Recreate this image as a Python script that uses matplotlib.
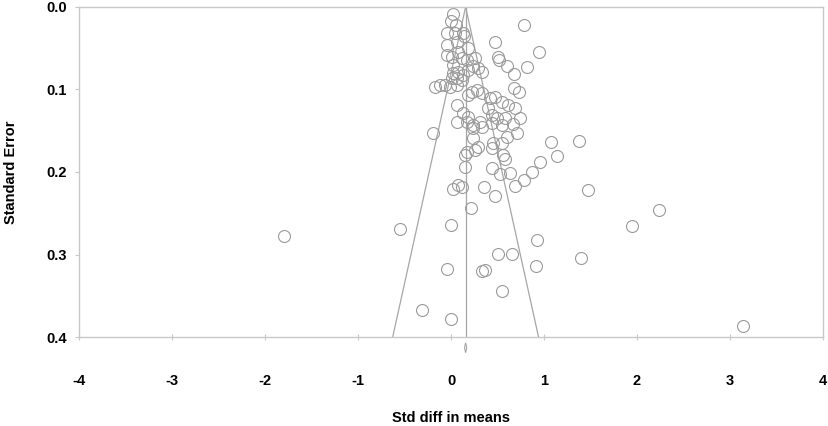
import matplotlib
matplotlib.use("Agg")
import matplotlib.pyplot as plt
import numpy as np

plt.rcParams['font.family'] = ['Liberation Sans', 'DejaVu Sans']
plt.rcParams['axes.unicode_minus'] = False

# study effects (std diff in means) and their standard errors
std_diff = [
    0.025, 0.003, 0.057, -0.040, 0.046, 0.132, 0.143, -0.040, 0.068, 0.186,
    -0.040, 0.014, 0.078, 0.121, 0.175, 0.261, 0.025, 0.025, 0.078, 0.132,
    0.186, 0.240, 0.294, 0.337, 0.014, 0.068, 0.121, -0.169, -0.115, -0.061,
    -0.008, 0.068, 0.229, 0.283, 0.337, 0.186, 0.422, 0.476, 0.068, 0.132,
    0.186, 0.240, 0.315, 0.444, 0.498, 0.584, 0.745, 0.401, 0.788, 0.476,
    0.949, 0.509, 0.519, 0.605, 0.820, 0.681, 0.681, 0.734, 0.552, 0.616,
    0.691, -0.190, 0.068, 0.175, 0.240, 0.337, 0.444, 0.552, 0.670, 0.713,
    0.240, 0.294, 0.261, 0.175, 0.154, 0.455, 0.552, 0.605, 0.444, 0.562,
    0.584, 0.154, 0.444, 0.530, 0.638, 0.025, 0.078, 0.121, 0.358, 0.476,
    0.691, 0.788, 0.874, 0.960, 1.078, 1.143, 1.379, 1.476, 0.218, 0.003,
    -0.545, 0.928, 0.509, 0.659, 0.917, -0.040, 0.337, 0.369, 0.552, -0.309,
    0.003, 2.240, 1.950, 1.401, 3.142, -1.792,
]
std_err = [
    0.0085, 0.017, 0.022, 0.0315, 0.0315, 0.0315, 0.035, 0.046, 0.042, 0.050,
    0.058, 0.061, 0.055, 0.062, 0.064, 0.062, 0.070, 0.080, 0.079, 0.082,
    0.076, 0.072, 0.074, 0.079, 0.086, 0.086, 0.088, 0.097, 0.095, 0.095,
    0.097, 0.095, 0.103, 0.101, 0.104, 0.107, 0.110, 0.109, 0.119, 0.128,
    0.133, 0.143, 0.139, 0.131, 0.135, 0.135, 0.135, 0.122, 0.022, 0.042,
    0.055, 0.061, 0.064, 0.072, 0.073, 0.081, 0.098, 0.103, 0.115, 0.119,
    0.122, 0.153, 0.139, 0.139, 0.147, 0.145, 0.141, 0.143, 0.142, 0.153,
    0.159, 0.170, 0.173, 0.176, 0.179, 0.165, 0.165, 0.158, 0.171, 0.179,
    0.184, 0.194, 0.195, 0.202, 0.201, 0.221, 0.216, 0.218, 0.218, 0.229,
    0.217, 0.210, 0.200, 0.188, 0.164, 0.181, 0.162, 0.222, 0.244, 0.264,
    0.269, 0.282, 0.299, 0.299, 0.314, 0.318, 0.320, 0.319, 0.344, 0.367,
    0.378, 0.246, 0.265, 0.304, 0.387, 0.278,
]
pooled = 0.157
se_max = 0.4

grey = '#a6a6a6'

fig = plt.figure(figsize=(8.29, 4.26), dpi=100)
ax = fig.add_axes([0.0953, 0.2089, 0.8975, 0.7747])

# funnel (95% limits) and the pooled-effect line
ax.plot([pooled - 1.96 * se_max, pooled, pooled + 1.96 * se_max], [se_max, 0, se_max],
        color=grey, lw=0.9)
ax.plot([pooled, pooled], [0, se_max], color=grey, lw=0.9)

ax.plot(std_diff, std_err, 'o', ms=8.6, mfc='none', mec='#9a9a9a', mew=0.8, clip_on=False)

# small diamond for the combined effect below the axis
dw, dy0, dy1 = 0.012, 0.407, 0.419
ax.fill([pooled - dw, pooled, pooled + dw, pooled], [(dy0 + dy1) / 2, dy0, (dy0 + dy1) / 2, dy1],
        facecolor='white', edgecolor=grey, lw=0.8, clip_on=False)

ax.set_xlim(-4, 4)
ax.set_ylim(0.4, 0.0)
ax.set_xticks(range(-4, 5))
ax.set_yticks([0.0, 0.1, 0.2, 0.3, 0.4])
ax.set_yticklabels(['0.0', '0.1', '0.2', '0.3', '0.4'])

for s in ax.spines.values():
    s.set_color('#c8c8c8')
    s.set_linewidth(1.0)

ax.tick_params(axis='x', direction='inout', length=5, width=0.8, color='#c8c8c8',
               pad=24, labelsize=10.5)
ax.tick_params(axis='y', direction='out', length=3, width=0.8, color='#c8c8c8',
               pad=6, labelsize=10.5)
for lab in ax.get_xticklabels() + ax.get_yticklabels():
    lab.set_fontweight('bold')

ax.set_xlabel('Std diff in means', fontsize=10.5, fontweight='bold', labelpad=17)
ax.set_ylabel('Standard Error', fontsize=10.5, fontweight='bold', labelpad=20)

fig.savefig('out.png', dpi=100)
